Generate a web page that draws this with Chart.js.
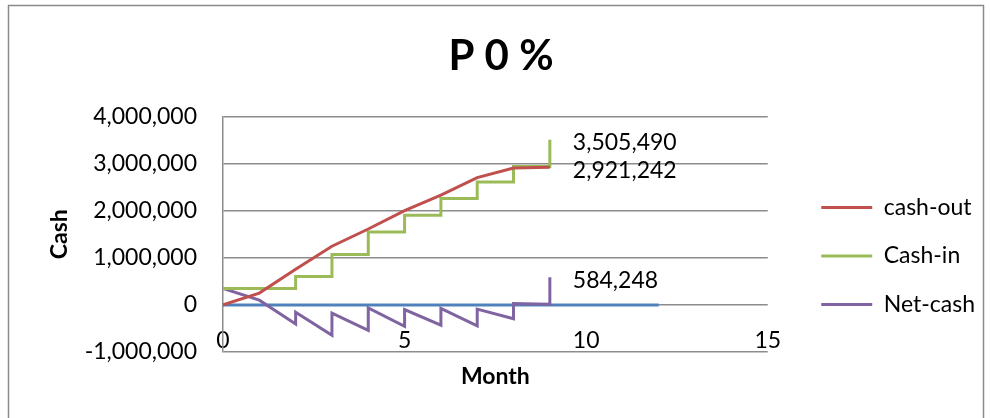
<!DOCTYPE html>
<html>
<head>
<meta charset="utf-8">
<script src="https://cdn.jsdelivr.net/npm/chart.js@4.4.1/dist/chart.umd.min.js"></script>
<style>
  html, body { margin: 0; padding: 0; background: #fff; }
</style>
</head>
<body>
<canvas id="cash-chart" width="990" height="418"></canvas>
<script>
// cash-out per month
const outMonths = [0, 1, 2, 3, 4, 5, 6, 7, 8, 9];
const cashOut = [0, 250000, 755000, 1245000, 1610000, 2000000, 2330000, 2700000, 2905000, 2921242];

// cash-in and net-cash are stepped (two points at each month)
const stepMonths = [0, 1, 2, 2, 3, 3, 4, 4, 5, 5, 6, 6, 7, 7, 8, 8, 9, 9];
const cashIn = [350000, 350000, 350000, 600000, 600000, 1070000, 1070000, 1545000, 1545000,
  1900000, 1900000, 2255000, 2255000, 2610000, 2610000, 2935000, 2935000, 3505490];
const netCash = [350000, 100000, -405000, -155000, -645000, -175000, -540000, -65000, -455000,
  -100000, -430000, -75000, -445000, -90000, -295000, 30000, 14000, 584248];

// blue zero line
const zeroMonths = [0, 12];
const zeroLine = [0, 0];

const yMin = -1000000, yMax = 4000000, yStep = 1000000;
const xMin = 0, xMax = 15, xStep = 5;

const FONT = "Lato";

function pts(xs, ys) {
  return xs.map((x, i) => ({ x: x, y: ys[i] }));
}

const framePlugin = {
  id: "frame",
  beforeDraw(chart) {
    const ctx = chart.ctx;
    ctx.save();
    ctx.fillStyle = "#fff";
    ctx.fillRect(0, 0, chart.width, chart.height);
    ctx.strokeStyle = "#8a8a8a";
    ctx.lineWidth = 1.5;
    ctx.strokeRect(8.5, 5.5, 975, 440);
    ctx.restore();
  },
};

// nudge the legend away from the plot, like excel does
const legendShift = {
  id: "legendShift",
  afterLayout(chart) {
    const lg = chart.legend;
    lg.left += 28;
    lg.right += 28;
    lg.top += 47;
    lg.bottom += 47;
  },
};

// value labels at the end of series
const endLabels = [
  { ds: 1, idx: stepMonths.length - 1 },
  { ds: 0, idx: outMonths.length - 1 },
  { ds: 2, idx: stepMonths.length - 1 },
];

const labelPlugin = {
  id: "endLabels",
  afterDatasetsDraw(chart) {
    const ctx = chart.ctx;
    ctx.save();
    ctx.font = "23px " + FONT;
    ctx.fillStyle = "#000";
    ctx.textAlign = "left";
    ctx.textBaseline = "middle";
    for (const l of endLabels) {
      const el = chart.getDatasetMeta(l.ds).data[l.idx];
      const v = chart.data.datasets[l.ds].data[l.idx].y;
      ctx.fillText(v.toLocaleString("en-US"), el.x + 23, el.y + 3);
    }
    ctx.restore();
  },
};

const chart = new Chart(document.getElementById("cash-chart").getContext("2d"), {
  type: "line",
  data: {
    datasets: [
      {
        label: "cash-out",
        data: pts(outMonths, cashOut),
        borderColor: "#c0504d",
        backgroundColor: "#c0504d",
        borderWidth: 3,
        pointRadius: 0,
        fill: false,
      },
      {
        label: "Cash-in",
        data: pts(stepMonths, cashIn),
        borderColor: "#9bbb59",
        backgroundColor: "#9bbb59",
        borderWidth: 3,
        pointRadius: 0,
        fill: false,
      },
      {
        label: "Net-cash",
        data: pts(stepMonths, netCash),
        borderColor: "#8064a2",
        backgroundColor: "#8064a2",
        borderWidth: 3,
        pointRadius: 0,
        fill: false,
      },
      {
        label: "zero",
        data: pts(zeroMonths, zeroLine),
        borderColor: "#4f81bd",
        backgroundColor: "#4f81bd",
        borderWidth: 3,
        pointRadius: 0,
        fill: false,
      },
    ],
  },
  options: {
    responsive: false,
    animation: false,
    layout: { padding: { left: 45, right: 33, top: 0, bottom: 0 } },
    plugins: {
      title: {
        display: true,
        text: "P 0 %",
        color: "#000",
        font: { family: FONT, size: 42, weight: "bold" },
        padding: { top: 31, bottom: 35 },
      },
      legend: {
        position: "right",
        labels: {
          filter: (item) => item.text !== "zero",
          usePointStyle: true,
          pointStyle: "line",
          pointStyleWidth: 51,
          boxHeight: 3,
          padding: 25.5,
          color: "#000",
          font: { family: FONT, size: 23 },
        },
      },
      tooltip: { enabled: false },
    },
    scales: {
      x: {
        type: "linear",
        min: xMin,
        max: xMax,
        afterFit: (s) => { s.height = 66; },
        ticks: {
          stepSize: xStep,
          mirror: true,
          padding: -2,
          color: "#000",
          font: { family: FONT, size: 23 },
        },
        grid: { display: false, drawTicks: false },
        border: { display: false },
        title: {
          display: true,
          text: "Month",
          color: "#000",
          font: { family: FONT, size: 23, weight: "bold" },
          padding: { top: 0, bottom: 28 },
        },
      },
      y: {
        min: yMin,
        max: yMax,
        afterFit: (s) => { s.width = 178; },
        ticks: {
          stepSize: yStep,
          padding: 26,
          color: "#000",
          font: { family: FONT, size: 23 },
          callback: (v) => v.toLocaleString("en-US"),
        },
        grid: { color: "#8c8c8c", lineWidth: 1.5, drawTicks: false },
        border: { color: "#8c8c8c", width: 1.5 },
        title: {
          display: true,
          text: "Cash",
          color: "#000",
          font: { family: FONT, size: 23, weight: "bold" },
          padding: { top: 1, bottom: 0 },
        },
      },
    },
  },
  plugins: [framePlugin, legendShift, labelPlugin],
});
</script>
</body>
</html>
